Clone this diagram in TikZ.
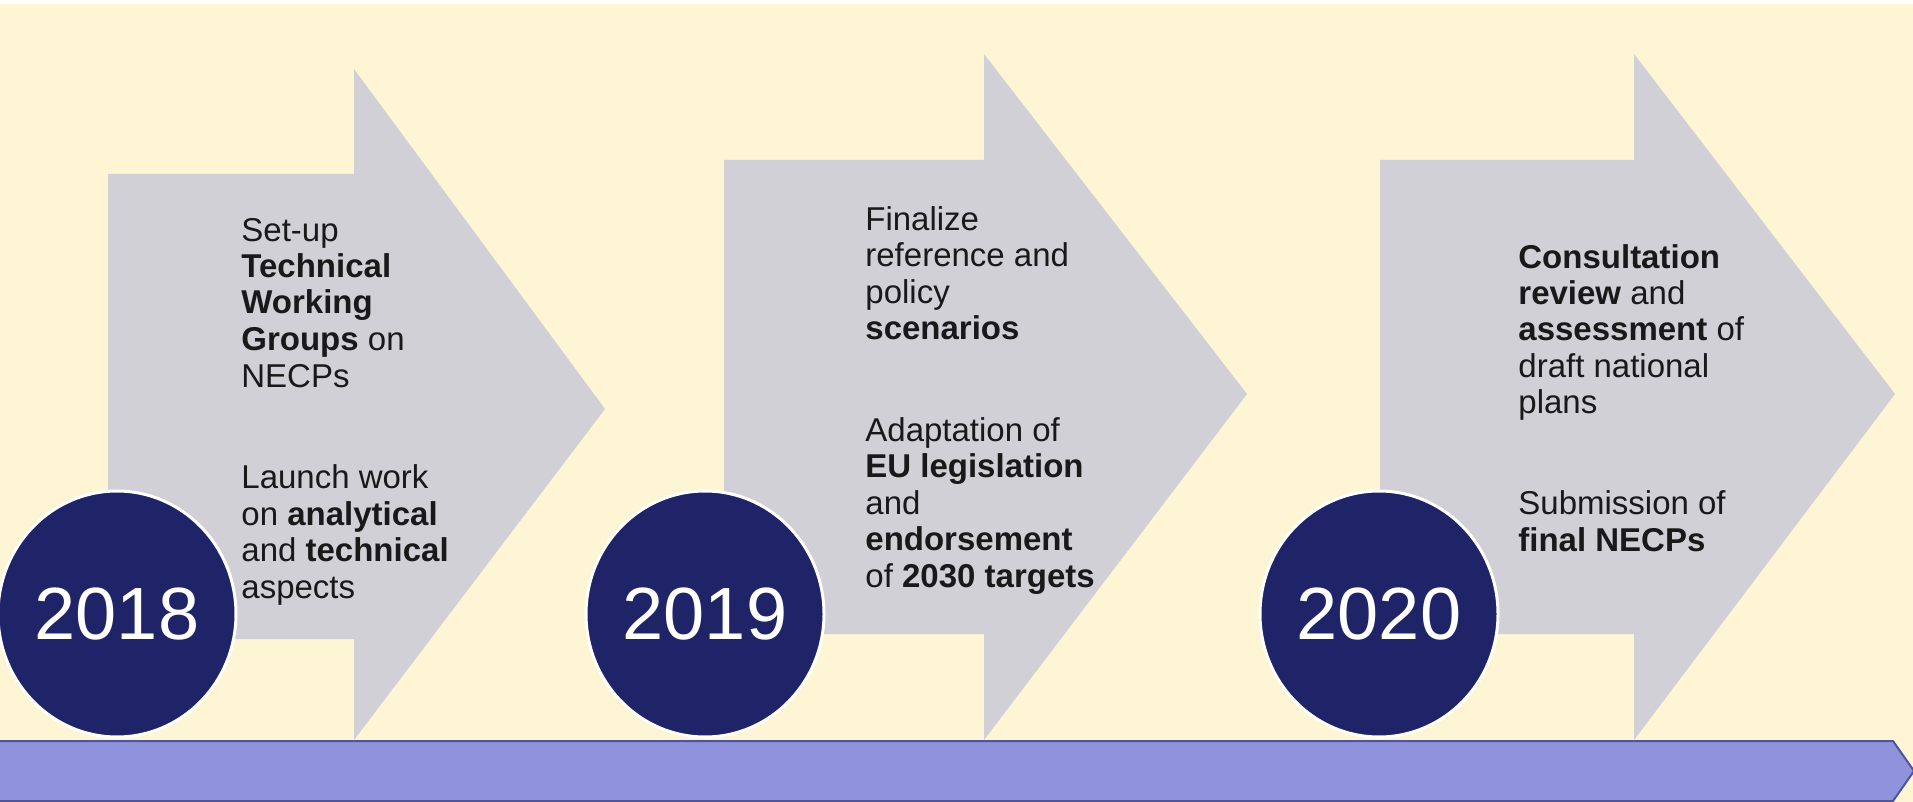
\documentclass[tikz,border=0pt]{standalone}
\usepackage{fontspec}
\setmainfont{Liberation Sans}
\usetikzlibrary{shapes.geometric}
\definecolor{cream}{HTML}{FDF5D3}
\definecolor{arrowgray}{HTML}{D0D0D6}
\definecolor{navy}{HTML}{1F2469}
\definecolor{barblue}{HTML}{8E93DC}
\definecolor{barline}{HTML}{50559A}
\begin{document}
\begin{tikzpicture}[x=.5pt, y=-.5pt,
    yearbadge/.style={ellipse, fill=navy, draw=white, line width=1.5pt, inner sep=0,
        minimum width=119pt, minimum height=123pt, text=white, font=\fontsize{37}{40}\selectfont},
    txt/.style={anchor=base west, align=left, inner sep=0, text=black!90,
        font=\fontsize{16.5}{18.25}\selectfont}]
\useasboundingbox (0,0) rectangle (1913,802);
\fill[cream] (0,0) rectangle (1913,802);
\fill[white] (0,0) rectangle (1913,4);

% big grey arrows
\fill[arrowgray] (108,174)--(354,174)--(354,69)--(605,409)--(354,740)--(354,639)--(108,639)--cycle;
\fill[arrowgray] (724,160)--(984,160)--(984,54)--(1247,394)--(984,740)--(984,634)--(724,634)--cycle;
\fill[arrowgray] (1380,160)--(1634,160)--(1634,54)--(1895,394)--(1634,740)--(1634,634)--(1380,634)--cycle;

% time line
\draw[barline, line width=1pt, fill=barblue] (-5,741)--(1893,741)--(1914,771)--(1893,801)--(-5,801)--cycle;

\node[yearbadge] (y2018) at (117,614) {2018};
\node[yearbadge] (y2019) at (705,614) {2019};
\node[yearbadge] (y2020) at (1379,614) {2020};

% text anchored at the baseline of its last line
\node[txt] (t18a) at (241,387) {Set-up\\\textbf{Technical}\\\textbf{Working}\\\textbf{Groups} on\\NECPs};
\node[txt] (t18b) at (241,598) {Launch work\\on \textbf{analytical}\\and \textbf{technical}\\aspects};
\node[txt] (t19a) at (865,340) {Finalize\\reference and\\policy\\\textbf{scenarios}};
\node[txt] (t19b) at (865,587) {Adaptation of\\\textbf{EU legislation}\\and\\\textbf{endorsement}\\of \textbf{2030 targets}};
\node[txt] (t20a) at (1518,414) {\textbf{Consultation}\\\textbf{review} and\\\textbf{assessment} of\\draft national\\plans};
\node[txt] (t20b) at (1518,551) {Submission of\\\textbf{final NECPs}};
\end{tikzpicture}
\end{document}
